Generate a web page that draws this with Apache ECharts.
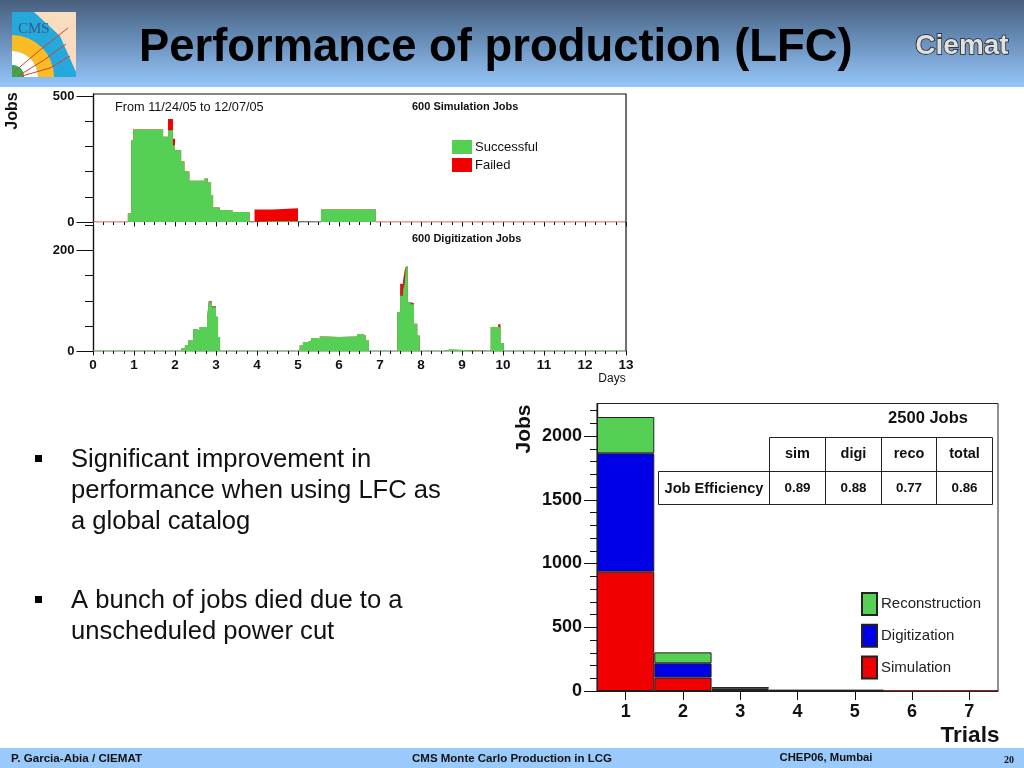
<!DOCTYPE html>
<html><head><meta charset="utf-8">
<style>html,body{margin:0;padding:0;background:#fff}#c{width:1024px;height:768px}</style>
<script src="https://cdn.jsdelivr.net/npm/echarts@6/dist/echarts.min.js"></script>
</head><body><div id="c"></div>
<script>
// ---- data: simulation panel
const simDays =    [0.85,0.93,0.98,1.71,1.83,1.95,2.0,2.15,2.23,2.35,2.72,2.8,2.88,2.93,3.09,3.4,3.82,3.94,4.39,5.0,5.56,6.9];
const simSuccess = [34,325,367,338,364,305,285,240,200,164,173,157,107,58,48,40,0,3,3,0,50,0];
const simFailed =  [0,0,0,0,45,25,0,0,0,0,0,0,0,0,0,0,0,47,52,0,0,0];
const simZeroRed = [[0,0],[0.85,0],['-','-'],[6.9,0],[13,0]];
const simZeroDark = [[3.82,0],[3.94,0],['-','-'],[5,0],[5.56,0]];
// ---- data: digitization panel
const digiDays =    [0,2.15,2.24,2.32,2.44,2.52,2.6,2.78,2.82,2.9,3.0,3.05,3.1,5.04,5.12,5.24,5.32,5.45,5.53,5.65,6.0,6.45,6.57,6.65,6.73,7.42,7.49,7.56,7.6,7.63,7.68,7.75,7.83,7.91,7.97,8.55,8.7,9.7,9.88,9.94,10.02,13];
const digiSuccess = [0,5,11,21,44,41,48,61,97,87,68,28,0,11,18,21,26,24,29,28,29,34,31,21,0,77,110,120,133,168,97,93,54,31,0,3,0,48,48,16,0,0];
const digiFailed =  [0,0,0,0,0,0,0,1,2,2,0,0,0,0,0,0,0,0,0,0,0,0,0,0,0,0,24,20,27,0,0,2,0,0,0,0,0,0,5,0,0,0];
const simTicksMajor = [0,500], simTicksMinor = [0,100,200,300,400,500];
const digiTicksMajor = [0,200], digiTicksMinor = [0,50,100,150,200,250];
// ---- data: trials chart
const trials = ['1','2','3','4','5','6','7'];
const trialSim =  [936,105,8,3,3,4,4];
const trialDigi = [928,112,10,2,2,null,null];
const trialReco = [285,86,13,1,1,null,null];
const jobTicksMajor = [0,500,1000,1500,2000];
const jobTicksMinor = [0,100,200,300,400,500,600,700,800,900,1000,1100,1200,1300,1400,1500,1600,1700,1800,1900,2000,2100,2200];
// ---- data: efficiency table and texts
const effHeaders = ['sim','digi','reco','total'];
const effValues = ['0.89','0.88','0.77','0.86'];
const bullets = [['Significant improvement in','performance when using LFC as','a global catalog'],['A bunch of jobs died due to a','unscheduled power cut']];

const GREEN='#55d055', RED='#f00000', BLUE='#0000e6', INK='#111';
const SANS='"Liberation Sans",Arial,sans-serif';
const pairs=(xs,ys)=>xs.map((x,i)=>[x,ys[i]]);
const sum=(a,b)=>a.map((v,i)=>v+b[i]);
const font=(size,weight)=>(weight||'normal')+' '+size+'px '+SANS;
const txt=(x,y,text,size,weight,o)=>({type:'text',x,y,rotation:(o&&o.rot)||0,z:(o&&o.z)||10,
  style:{text,font:o&&o.family?(weight||'normal')+' '+size+'px '+o.family:font(size,weight),fill:(o&&o.fill)||INK,
    stroke:o&&o.stroke,lineWidth:o&&o.lw,
    textAlign:(o&&o.align)||'left',textVerticalAlign:'middle'}});
const line=(pts,color,w)=>({type:'polyline',z:9,shape:{points:pts},style:{stroke:color||INK,lineWidth:w||1,fill:null}});

const graphic=[
 // slide header / footer
 {type:'rect',z:-10,shape:{x:0,y:0,width:1024,height:87},style:{fill:new echarts.graphic.LinearGradient(0,0,0,1,[{offset:0,color:'#485f7c'},{offset:.35,color:'#5f83ab'},{offset:1,color:'#97c6fa'}])}},
 {type:'rect',z:-10,shape:{x:0,y:748,width:1024,height:20},style:{fill:'#9acafc'}},
 txt(11,759,'P. Garcia-Abia / CIEMAT',11.6,'bold'),
 txt(512,759,'CMS Monte Carlo Production in LCG',11.5,'bold',{align:'center'}),
 txt(826,758,'CHEP06, Mumbai',11.3,'bold',{align:'center'}),
 txt(1009,760,'20',10,'bold',{align:'center',family:'"Liberation Serif",serif'}),
 // CMS logo
 {type:'rect',z:1,shape:{x:12,y:12,width:64,height:65},style:{fill:'#25a9dc'}},
 {type:'polygon',z:1,shape:{points:[[34,12],[76,12],[76,72],[60,36]]},style:{fill:'#f8dcc0'}},
 {type:'sector',z:2,shape:{cx:12,cy:77,r:42,r0:26,startAngle:-Math.PI/2,endAngle:0},style:{fill:'#fbbc23'}},
 {type:'sector',z:2,shape:{cx:12,cy:77,r:26,r0:12,startAngle:-Math.PI/2,endAngle:0},style:{fill:'#fff'}},
 {type:'sector',z:2,shape:{cx:12,cy:77,r:12,r0:0,startAngle:-Math.PI/2,endAngle:0},style:{fill:'#3aa84a'}},
 line([[14,72],[40,50],[68,28]],'#d8402a',1),line([[18,76],[44,60],[66,44]],'#d8402a',1),line([[22,76],[50,68],[70,56]],'#d8402a',1),
 txt(18,29,'CMS',15,'normal',{family:'"Liberation Serif",serif',fill:'#3a5a8a'}),
 // Ciemat logo
 txt(962,46,'Ciemat',28,'bold',{align:'center',fill:'#e0e0e0',stroke:'#1a1a1a',lw:1.5}),
 // frame of the two day panels
 line([[93,94],[626,94],[626,351]],INK,1.2),
 txt(115,107,'From 11/24/05 to 12/07/05',12.7,'normal'),
 txt(412,107,'600 Simulation Jobs',11,'bold'),
 txt(412,238.5,'600 Digitization Jobs',11,'bold'),
 txt(612,379,'Days',12,'normal',{align:'center'}),
 txt(13,111,'Jobs',16,'bold',{align:'center',rot:Math.PI/2}),
 // trials chart frame & texts
 {type:'rect',z:9,shape:{x:597,y:403.5,width:401,height:287.5},style:{fill:null,stroke:'#222',lineWidth:1}},
 txt(928,418,'2500 Jobs',16.5,'bold',{align:'center'}),
 txt(524,429,'Jobs',21,'bold',{align:'center',rot:Math.PI/2}),
 txt(970,736,'Trials',22.5,'bold',{align:'center'}),
 // efficiency table grid
 line([[769.5,437.5],[992.5,437.5]],'#222',1),
 line([[658.5,471.5],[992.5,471.5]],'#222',1),
 line([[658.5,504.5],[992.5,504.5]],'#222',1),
 line([[658.5,471.5],[658.5,504.5]],'#222',1),
 ...[769.5,825.5,881.5,936.5,992.5].map(x=>line([[x,437.5],[x,504.5]],'#222',1)),
 txt(714,489,'Job Efficiency',14.6,'bold',{align:'center'}),
 ...effHeaders.map((h,i)=>txt([797.5,853.5,909,964.5][i],454,h,14.5,'bold',{align:'center'})),
 ...effValues.map((h,i)=>txt([797.5,853.5,909,964.5][i],488,h,13.4,'bold',{align:'center'})),
];
// bullets
[[460,bullets[0]],[601,bullets[1]]].forEach(([y0,ls])=>{
  graphic.push({type:'rect',z:5,shape:{x:35,y:y0-5,width:7,height:7},style:{fill:'#000'}});
  ls.forEach((s,i)=>graphic.push(txt(71,y0+i*31,s,25.6,'normal')));
});

const dayAxisBase={type:'value',min:0,max:13,interval:1,splitLine:{show:false},
  axisTick:{show:true,length:4.5,lineStyle:{color:INK,width:1}},minorTick:{show:true,splitNumber:4,length:3,lineStyle:{color:INK,width:1}}};
const yBase=(extra)=>Object.assign({type:'value',position:'left',min:0,splitLine:{show:false},axisLine:{show:true,onZero:false,lineStyle:{color:INK,width:1.2}}},extra);
const yMinor=(grid,max,ticks,len)=>yBase({gridIndex:grid,max,axisTick:{show:true,customValues:ticks,length:len,lineStyle:{color:INK,width:1}},axisLabel:{show:false}});
const yMajor=(grid,max,ticks,len,size,margin)=>yBase({gridIndex:grid,max,axisTick:{show:true,customValues:ticks,length:len,lineStyle:{color:INK,width:1}},
  axisLabel:{customValues:ticks,margin,formatter:String,color:INK,fontFamily:SANS,fontWeight:'bold',fontSize:size}});
const areaSeries=(name,color,grid,yIdx,xs,ys,z)=>({name,type:'line',xAxisIndex:grid,yAxisIndex:yIdx,step:'end',symbol:'none',
  data:pairs(xs,ys),lineStyle:{width:0},areaStyle:{color,opacity:1},itemStyle:{color},silent:true,z});
const zeroSeries=(name,color,data)=>({name,type:'line',xAxisIndex:0,yAxisIndex:0,symbol:'none',data,lineStyle:{color,width:1.2},itemStyle:{color},connectNulls:false,silent:true,z:5});
const barSeries=(name,color,data)=>({name,type:'bar',stack:'t',xAxisIndex:2,yAxisIndex:4,barWidth:'100%',data,itemStyle:{color,borderColor:'#222',borderWidth:1},silent:true,z:3});

const option={
 animation:false,backgroundColor:'#fff',
 title:{text:'Performance of production (LFC)',left:139,top:26,padding:0,textStyle:{fontFamily:SANS,fontWeight:'bold',fontSize:45.4,color:'#000'}},
 graphic:{elements:graphic},
 legend:[
  {data:['Successful','Failed'],left:452,top:140,padding:0,orient:'vertical',icon:'rect',itemWidth:20,itemHeight:14,itemGap:4,selectedMode:false,itemStyle:{borderWidth:0},
   textStyle:{fontFamily:SANS,fontSize:13,color:INK,padding:[0,0,0,-2]}},
  {data:['Reconstruction','Digitization','Simulation'],left:861,top:592,padding:0,orient:'vertical',icon:'rect',itemWidth:15,itemHeight:22,itemGap:7.7,selectedMode:false,
   textStyle:{fontFamily:SANS,fontSize:15,color:'#222',padding:[0,0,0,-1]}}
 ],
 grid:[
  {left:93,top:94,width:533,height:128,outerBoundsMode:'none'},
  {left:93,top:225.4,width:533,height:125.6,outerBoundsMode:'none'},
  {left:597,top:403.5,width:401,height:287.5,outerBoundsMode:'none'}
 ],
 xAxis:[
  Object.assign({},dayAxisBase,{gridIndex:0,axisLine:{show:false},axisLabel:{show:false}}),
  Object.assign({},dayAxisBase,{gridIndex:1,axisLine:{show:true,lineStyle:{color:'#86a886',width:1.5}},
     axisLabel:{margin:7,color:INK,fontFamily:SANS,fontWeight:'bold',fontSize:13.5}}),
  {gridIndex:2,type:'category',data:trials,axisTick:{show:true,alignWithLabel:true,length:9,lineStyle:{color:INK,width:1}},axisLine:{lineStyle:{color:INK,width:1}},
     axisLabel:{margin:12,color:INK,fontFamily:SANS,fontWeight:'bold',fontSize:18}}
 ],
 yAxis:[
  yMinor(0,508,simTicksMinor,8),
  yMajor(0,508,simTicksMajor,16.5,13,18.5),
  yMinor(1,250,digiTicksMinor,8),
  yMajor(1,250,digiTicksMajor,16.5,13,18.5),
  yMinor(2,2255,jobTicksMinor,7),
  yMajor(2,2255,jobTicksMajor,13,18,15)
 ],
 series:[
  areaSeries('Failed',RED,0,0,simDays,sum(simSuccess,simFailed),3),
  areaSeries('Successful',GREEN,0,0,simDays,simSuccess,4),
  zeroSeries('Failed at zero','#c0392b',simZeroRed),
  zeroSeries('Idle at zero','#222',simZeroDark),
  areaSeries('Digi failed','#c8201c',1,2,digiDays,sum(digiSuccess,digiFailed),3),
  areaSeries('Digi successful',GREEN,1,2,digiDays,digiSuccess,4),
  barSeries('Simulation',RED,trialSim.map((v,i)=>i>4?{value:v,itemStyle:{borderColor:'#c0282a'}}:v)),
  barSeries('Digitization',BLUE,trialDigi),
  barSeries('Reconstruction',GREEN,trialReco)
 ]
};
const chart=echarts.init(document.getElementById('c'),null,{renderer:'canvas',width:1024,height:768});
chart.setOption(option);
</script></body></html>
